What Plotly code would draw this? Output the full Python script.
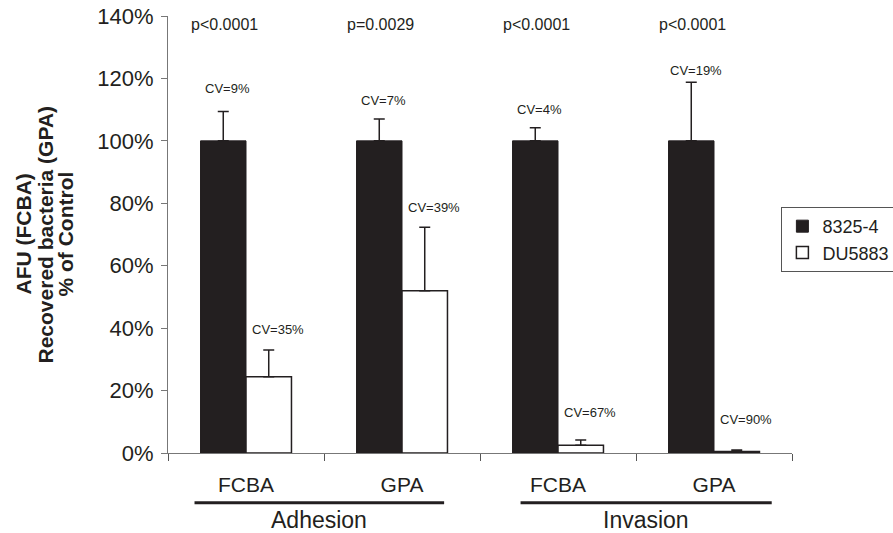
import plotly.graph_objects as go

# ---- data ----
categories = ["FCBA", "GPA", "FCBA", "GPA"]
groups = ["Adhesion", "Invasion"]
series_names = ["8325-4", "DU5883"]
wt_values = [100, 100, 100, 100]
wt_err = [9.4, 7.0, 4.2, 18.8]
mut_values = [24.4, 52.0, 2.5, 0.5]
mut_err = [8.6, 20.3, 1.7, 0.45]
wt_cv = ["CV=9%", "CV=7%", "CV=4%", "CV=19%"]
mut_cv = ["CV=35%", "CV=39%", "CV=67%", "CV=90%"]
p_values = ["p<0.0001", "p=0.0029", "p<0.0001", "p<0.0001"]
y_ticks = [0, 20, 40, 60, 80, 100, 120, 140]
y_ticktext = ["%d%%" % v for v in y_ticks]

# ---- layout helpers (positions, not data) ----
x = list(range(len(categories)))
bargap = 0.417
half = (1 - bargap) / 4.0
wt_cv_y = [116.7, 112.8, 110.0, 122.5]
mut_cv_y = [39.7, 78.8, 13.0, 10.6]
p_y = 137.3

INK = "#231f20"
FONT = "Liberation Sans, Arial, Helvetica, sans-serif"

fig = go.Figure()
fig.add_trace(go.Bar(
    x=x, y=wt_values, name=series_names[0], legendgroup="a",
    marker=dict(color=INK, line=dict(color=INK, width=1)),
    error_y=dict(type="data", symmetric=False, array=wt_err,
                 arrayminus=[0] * len(wt_err), color=INK, thickness=1.5, width=5.5),
))
fig.add_trace(go.Bar(
    x=x, y=mut_values, name=series_names[1], legendgroup="b",
    marker=dict(color="white", line=dict(color=INK, width=1.5)),
    error_y=dict(type="data", symmetric=False, array=mut_err,
                 arrayminus=[0] * len(mut_err), color=INK, thickness=1.5, width=5.5),
))

ann = []
for i in x:
    ann.append(dict(x=i - half + 0.03, y=wt_cv_y[i], text=wt_cv[i], showarrow=False,
                    xref="x", yref="y", xanchor="center", yanchor="middle",
                    font=dict(size=13, color=INK, family=FONT)))
    ann.append(dict(x=i + half + 0.06, y=mut_cv_y[i], text=mut_cv[i], showarrow=False,
                    xref="x", yref="y", xanchor="center", yanchor="middle",
                    font=dict(size=13, color=INK, family=FONT)))
    ann.append(dict(x=i - 0.14, y=p_y, text=p_values[i], showarrow=False,
                    xref="x", yref="y", xanchor="center", yanchor="middle",
                    font=dict(size=16, color=INK, family=FONT)))

# group labels and underlines
group_spans = [(-0.33, 1.27), (1.76, 3.37)]
shapes = []
for g, (a, b) in zip(groups, group_spans):
    shapes.append(dict(type="line", xref="x", yref="paper", x0=a, x1=b,
                       y0=-0.114, y1=-0.114, line=dict(color=INK, width=3)))
    ann.append(dict(x=(a + b) / 2, y=-0.153, xref="x", yref="paper", text=g,
                    xanchor="center", yanchor="middle",
                    showarrow=False, font=dict(size=23, color=INK, family=FONT)))

# y-axis title (three lines)
title_lines = ["AFU (FCBA)", "Recovered bacteria (GPA)", "% of Control"]
for t, dx in zip(title_lines, [-145, -123, -103]):
    ann.append(dict(x=0, y=0.5, xref="paper", yref="paper", xshift=dx,
                    text="<b>%s</b>" % t, textangle=-90, showarrow=False,
                    xanchor="center", yanchor="middle",
                    font=dict(size=21, color=INK, family=FONT)))

fig.update_layout(
    width=893, height=533,
    margin=dict(l=168, r=101, t=16, b=80, autoexpand=False),
    paper_bgcolor="white", plot_bgcolor="white",
    barmode="group", bargap=bargap, bargroupgap=0,
    font=dict(family=FONT, color=INK),
    showlegend=True,
    legend=dict(x=0.983, xanchor="left", y=0.563, yanchor="top",
                bordercolor="#555555", borderwidth=1, bgcolor="white",
                font=dict(size=18, color=INK, family=FONT),
                tracegroupgap=0),
    annotations=ann, shapes=shapes,
)
fig.update_xaxes(
    range=[-0.5, 3.5], tickmode="array", tickvals=x, ticktext=categories,
    ticks="outside", ticklen=0, showgrid=False, zeroline=False,
    showline=True, linecolor="#777777", linewidth=1.2, automargin=False,
    tickfont=dict(size=21, color=INK, family=FONT), ticklabelstandoff=13,
    minor=dict(ticks="outside", ticklen=7, tickcolor="#555555", tickwidth=1.2,
               tickvals=[-0.5, 0.5, 1.5, 2.5, 3.5], showgrid=False),
)
fig.update_yaxes(
    range=[0, 140], tickmode="array", tickvals=y_ticks, ticktext=y_ticktext,
    ticks="outside", ticklen=6, tickcolor="#777777", tickwidth=1.2,
    showgrid=False, zeroline=False, showline=True, linecolor="#777777", linewidth=1.2,
    automargin=False, ticklabelstandoff=3,
    tickfont=dict(size=22, color=INK, family=FONT),
)

# remove the browser's default 8px page margin so the figure sits at the corner
fig.write_html("out.html", config={"displayModeBar": False},
               post_script="document.body.style.margin='0';document.body.style.padding='0';")
